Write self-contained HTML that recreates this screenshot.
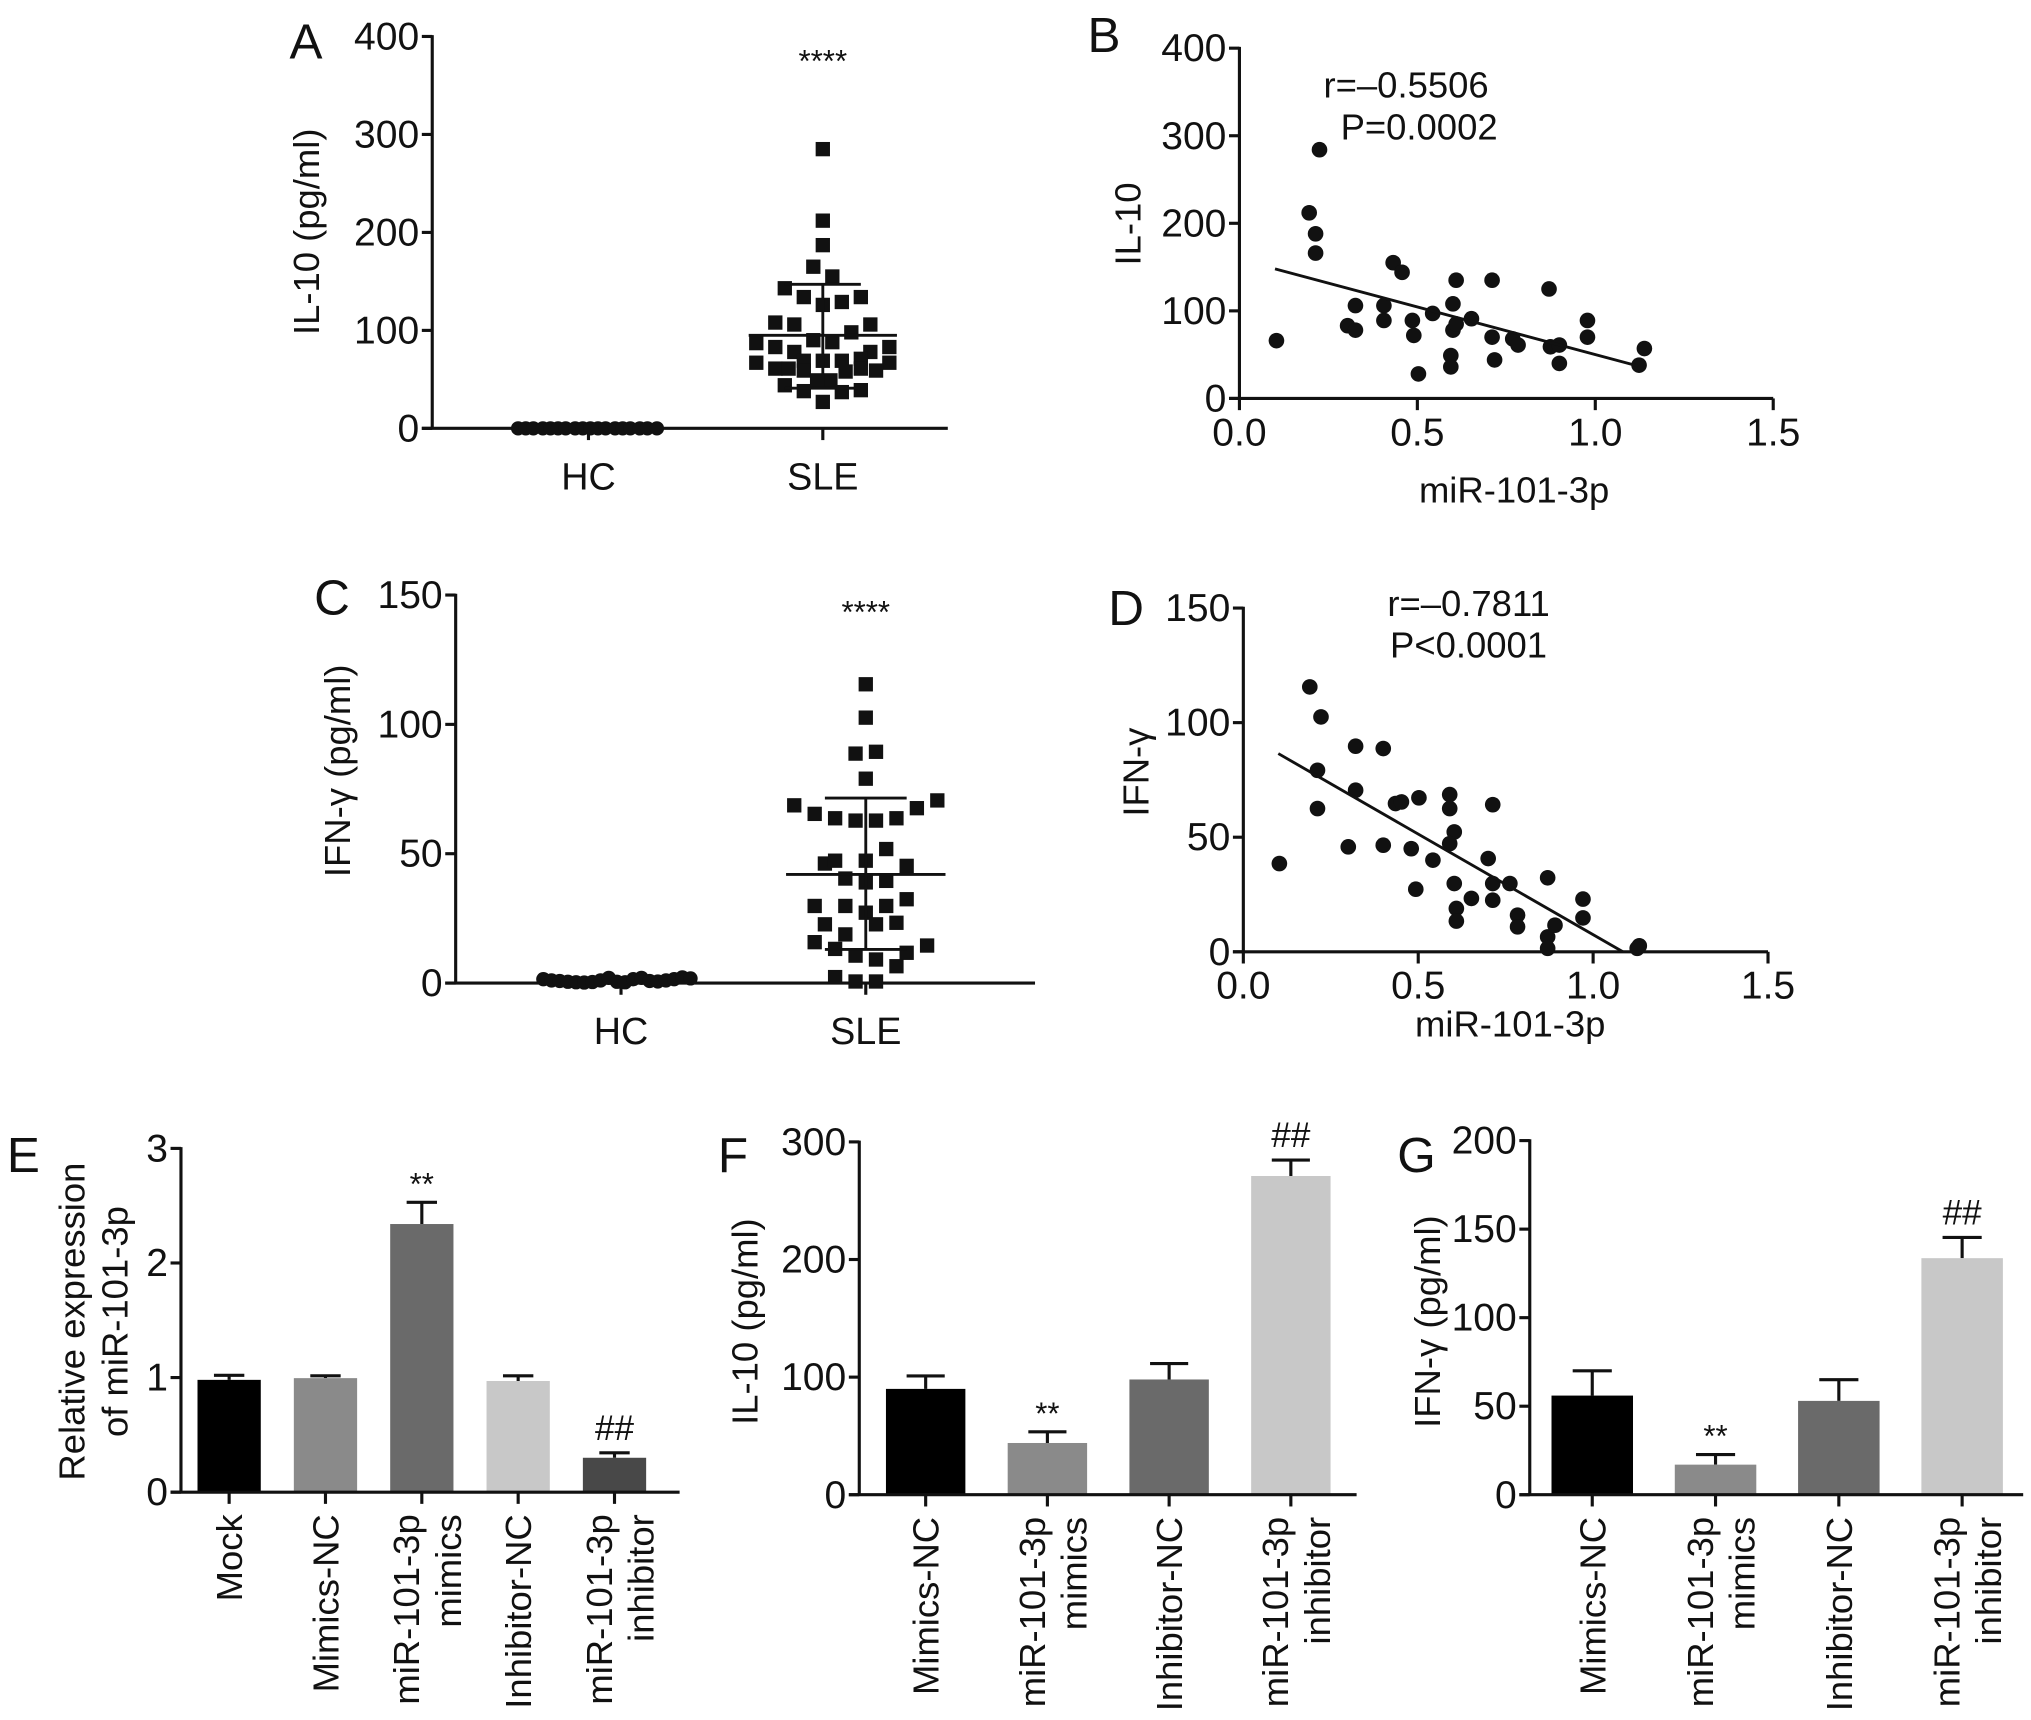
<!DOCTYPE html>
<html><head><meta charset="utf-8"><style>
html,body{margin:0;padding:0;background:#fff;}
svg{display:block;font-family:"Liberation Sans",Arial,sans-serif;}
</style></head><body>
<svg id="fig" xmlns="http://www.w3.org/2000/svg" width="2031" height="1720" viewBox="0 0 1560 1321" preserveAspectRatio="none"></svg>
<script>
// ---------- DATA ----------
const A_cats = ['HC','SLE'];
const A_ticks = [0,100,200,300,400];
const A_hcValues = [0,0,0,0,0,0,0,0,0,0,0,0,0,0,0,0,0,0];
const A_hcCols = [-3.7,-3.3,-2.9,-2.4,-2,-1.6,-1.2,-0.7,-0.3,0.1,0.5,0.9,1.4,1.8,2.2,2.7,3.1,3.6];
const A_sleValues = [285,212,187,165,155,143,134,134,126,129,108,106,106,98,90,88,87,83,83,78,78,69,69,69,71,67,67,61,61,59,58,59,61,49,49,44,38,37,39,27];
const A_sleCols = [0,0,0,-0.5,0.5,-2,-1,2,0,1,-2.5,-1.5,2.5,1.5,-0.5,0.5,-3.5,-2.5,3.5,-1.5,2.5,0,-1,1,2,-3.5,3.5,-2.5,-1.8,-1,1.2,2.8,2,-0.3,0.4,-2,-1,1,2,0];
const A_mean = 95, A_sdHi = 147, A_sdLo = 41;

const B_ticksX = [0.0,0.5,1.0,1.5];
const B_ticksY = [0,100,200,300,400];
const B_x = [0.225,0.196,0.214,0.214,0.104,0.432,0.457,0.326,0.304,0.326,0.406,0.406,0.486,0.49,0.503,0.543,0.6,0.609,0.6,0.609,0.652,0.594,0.594,0.71,0.71,0.717,0.768,0.783,0.87,0.874,0.899,0.899,0.978,0.978,1.138,1.123];
const B_y = [284,212,188,166,66,155,144,106,83,78,106,89,89,72,28,97,108,135,78,85,91,49,36,135,70,44,68,61,125,59,61,40,89,70,57,38];
const B_fitX = [0.1,1.12];
const B_fitY = [148,37];

const C_cats = ['HC','SLE'];
const C_ticks = [0,50,100,150];
const C_hcValues = [1.5,1,0.8,0.5,0.3,0.2,0.4,1,2,0.5,0.3,1.5,2,0.8,0.6,1,1.5,2.2,1.8];
const C_hcCols = [-3.8,-3.4,-3,-2.6,-2.2,-1.8,-1.4,-1,-0.6,-0.2,0.2,0.6,1,1.4,1.8,2.2,2.6,3,3.4];
const C_sleValues = [115.5,102.6,88.7,89.4,79,68.7,65.4,63.7,62.8,62.8,63.7,67.6,70.6,51.8,46.2,47.3,47.3,45.3,40.4,38.9,39.5,29.8,29.8,27.2,29.8,32.4,22.7,22.7,23.3,18.8,15.8,13.2,10.6,9.1,11.7,14.5,6.5,2.3,0.6,0.6];
const C_sleCols = [0,0,-0.5,0.5,0,-3.5,-2.5,-1.5,-0.5,0.5,1.5,2.5,3.5,1,-2,-1.5,0,2,-1,0,1,-2.5,-1,0,1,2,-2,0.5,1.5,-1,-2.5,-1.5,-0.5,0.5,2,3,1.5,-1.5,-0.5,0.5];
const C_mean = 42, C_sdHi = 71.5, C_sdLo = 13;

const D_ticksX = [0.0,0.5,1.0,1.5];
const D_ticksY = [0,50,100,150];
const D_x = [0.19,0.222,0.321,0.4,0.212,0.321,0.212,0.103,0.30,0.4,0.435,0.452,0.502,0.48,0.493,0.542,0.59,0.59,0.603,0.59,0.603,0.609,0.609,0.652,0.713,0.70,0.713,0.713,0.762,0.784,0.784,0.87,0.87,0.87,0.891,0.971,0.971,1.126,1.132];
const D_y = [115.6,102.5,89.7,88.7,79.2,70.5,62.5,38.5,45.8,46.5,64.7,65.4,67.2,45,27.3,40,68.6,62.5,52.3,47.2,29.8,18.9,13.4,23.3,64.2,40.7,29.8,22.5,29.8,16,10.9,32.3,6.5,1.5,11.6,23,14.8,1.5,2.6];
const D_fitX = [0.1,1.085];
const D_fitY = [86.5,0];

const E_cats = [['Mock'],['Mimics-NC'],['miR-101-3p','mimics'],['Inhibitor-NC'],['miR-101-3p','inhibitor']];
const E_ticks = [0,1,2,3];
const E_values = [0.98,0.995,2.34,0.97,0.30];
const E_errs = [1.02,1.015,2.53,1.015,0.343];
const E_marks = ['','','**','','##'];

const F_cats = [['Mimics-NC'],['miR-101-3p','mimics'],['Inhibitor-NC'],['miR-101-3p','inhibitor']];
const F_ticks = [0,100,200,300];
const F_values = [90,44,98,271];
const F_errs = [101,53.5,111.5,284.6];
const F_marks = ['','**','','##'];

const G_cats = [['Mimics-NC'],['miR-101-3p','mimics'],['Inhibitor-NC'],['miR-101-3p','inhibitor']];
const G_ticks = [0,50,100,150,200];
const G_values = [56,17,53,133.6];
const G_errs = [70,22.7,65,145.3];
const G_marks = ['','**','','##'];

// ---------- HELPERS ----------
const NS = 'http://www.w3.org/2000/svg';
const svg = document.getElementById('fig');
function mk(tag, attrs, parent){
  const el = document.createElementNS(NS, tag);
  for (const k in attrs) el.setAttribute(k, attrs[k]);
  (parent || svg).appendChild(el);
  return el;
}
function lin(d0,d1,r0,r1){ return v => r0 + (v-d0)*(r1-r0)/(d1-d0); }
function group(name){
  const g = mk('g', {});
  
  
  return g;
}
function line(g, x1,y1,x2,y2, name, w){
  const l = mk('line',{x1:x1,y1:y1,x2:x2,y2:y2,stroke:'#111','stroke-width':w||2.4}, g);
  
  
  return l;
}
function text(g, x, y, s, size, anchor, name, rot){
  const t = mk('text',{x:x,y:y,'font-size':size,'text-anchor':anchor||'middle',fill:'#111'}, g);
  if (rot) t.setAttribute('transform','rotate(-90 '+x+' '+y+')');
  t.textContent = s;
  
  
  return t;
}
function yAxis(g, x0, xEnd, yScale, ticks, fmt){
  const top = yScale(ticks[ticks.length-1]), bot = yScale(ticks[0]);
  line(g, x0, top-1, x0, bot, 'y-axis');
  line(g, x0-8, bot, xEnd, bot, 'x-axis');
  ticks.forEach(t => {
    line(g, x0-8, yScale(t), x0, yScale(t), 'y-tick');
    text(g, x0-10, yScale(t)+10, fmt ? fmt(t) : String(t), 30, 'end', 'y-tick-label');
  });
}

// ---------- DOT PLOTS ----------
function dotPlot(name, x0, xEnd, yTopPx, yBotPx, ticks, cats, catX, hcV, hcC, sV, sC, mean, hi, lo, colW){
  const g = group(name);
  const y = lin(0, ticks[ticks.length-1], yBotPx, yTopPx);
  yAxis(g, x0, xEnd, y, ticks);
  cats.forEach((c,i) => {
    line(g, catX(i), yBotPx, catX(i), yBotPx+9, 'x-tick');
    text(g, catX(i), yBotPx+47, c, 29, 'middle', 'x-tick-label');
  });
  hcV.forEach((v,i) => {
    const c = mk('circle',{cx:catX(0)+hcC[i]*colW, cy:y(v), r:5.5, fill:'#111'}, g);
    
    
  });
  sV.forEach((v,i) => {
    const r = mk('rect',{x:catX(1)+sC[i]*colW-5.5, y:y(v)-5.5, width:11, height:11, fill:'#111'}, g);
    
    
  });
  const cx = catX(1);
  line(g, cx-3.9*colW, y(mean), cx+3.9*colW, y(mean), 'mean-line', 2.2);
  line(g, cx, y(hi), cx, y(lo), 'sd-bar', 2.2);
  line(g, cx-2*colW, y(hi), cx+2*colW, y(hi), 'sd-cap-upper', 2.2);
  line(g, cx-2*colW, y(lo), cx+2*colW, y(lo), 'sd-cap-lower', 2.2);
  return {g:g, y:y};
}
const pA = dotPlot('panel-a', 332, 728, 28, 329, A_ticks, A_cats, i => 452+180*i, A_hcValues, A_hcCols, A_sleValues, A_sleCols, A_mean, A_sdHi, A_sdLo, 14.6);
text(pA.g, 632, 55, '****', 24, 'middle', 'significance-mark');
text(pA.g, 245, 178, 'IL-10 (pg/ml)', 28, 'middle', 'y-axis-title', true);
text(pA.g, 235, 45, 'A', 38, 'middle', 'panel-label');

const pC = dotPlot('panel-c', 350, 795, 457, 755, C_ticks, C_cats, i => 477+188*i, C_hcValues, C_hcCols, C_sleValues, C_sleCols, C_mean, C_sdHi, C_sdLo, 15.7);
text(pC.g, 665, 478, '****', 24, 'middle', 'significance-mark');
text(pC.g, 269, 592, 'IFN-γ (pg/ml)', 28, 'middle', 'y-axis-title', true);
text(pC.g, 255, 472, 'C', 38, 'middle', 'panel-label');

// ---------- SCATTER ----------
function scatter(name, x0, x15, yTopPx, yBotPx, tx, ty, xs, ys, fx, fy){
  const g = group(name);
  const x = lin(0, 1.5, x0, x15);
  const y = lin(0, ty[ty.length-1], yBotPx, yTopPx);
  line(g, x0, yTopPx-1, x0, yBotPx, 'y-axis');
  line(g, x0-8, yBotPx, x15, yBotPx, 'x-axis');
  ty.forEach(t => {
    line(g, x0-8, y(t), x0, y(t), 'y-tick');
    text(g, x0-10, y(t)+10, String(t), 30, 'end', 'y-tick-label');
  });
  tx.forEach(t => {
    line(g, x(t), yBotPx, x(t), yBotPx+9, 'x-tick');
    text(g, x(t), yBotPx+36, t.toFixed(1), 30, 'middle', 'x-tick-label');
  });
  xs.forEach((v,i) => {
    const c = mk('circle',{cx:x(v), cy:y(ys[i]), r:6, fill:'#111'}, g);
    
    
  });
  line(g, x(fx[0]), y(fy[0]), x(fx[1]), y(fy[1]), 'regression-line', 2.2);
  return {g:g};
}
const pB = scatter('panel-b', 952, 1362, 37, 306, B_ticksX, B_ticksY, B_x, B_y, B_fitX, B_fitY);
text(pB.g, 1080, 75, 'r=–0.5506', 28, 'middle', 'correlation-r');
text(pB.g, 1090, 107, 'P=0.0002', 28, 'middle', 'correlation-p');
text(pB.g, 1163, 386, 'miR-101-3p', 28, 'middle', 'x-axis-title');
text(pB.g, 876, 172, 'IL-10', 28, 'middle', 'y-axis-title', true);
text(pB.g, 848, 40, 'B', 38, 'middle', 'panel-label');

const pD = scatter('panel-d', 955, 1358, 467, 731, D_ticksX, D_ticksY, D_x, D_y, D_fitX, D_fitY);
text(pD.g, 1128, 473, 'r=–0.7811', 28, 'middle', 'correlation-r');
text(pD.g, 1128, 505, 'P<0.0001', 28, 'middle', 'correlation-p');
text(pD.g, 1160, 796, 'miR-101-3p', 28, 'middle', 'x-axis-title');
text(pD.g, 882, 593, 'IFN-γ', 28, 'middle', 'y-axis-title', true);
text(pD.g, 865, 480, 'D', 38, 'middle', 'panel-label');

// ---------- BARS ----------
function barChart(name, x0, xEnd, yTopPx, yBotPx, ticks, cats, vals, errs, marks, colors, c0, step, bw){
  const g = group(name);
  const y = lin(0, ticks[ticks.length-1], yBotPx, yTopPx);
  const cx = i => c0 + step*i;
  vals.forEach((v,i) => {
    const top = y(errs[i]);
    line(g, cx(i), top, cx(i), y(v), 'error-bar', 2.4);
    line(g, cx(i)-bw*0.24, top, cx(i)+bw*0.24, top, 'error-cap', 2.4);
    const r = mk('rect',{x:cx(i)-bw/2, y:y(v), width:bw, height:yBotPx-y(v), fill:colors[i]}, g);
    
    
    if (marks[i]) text(g, cx(i), top - (marks[i]==='##'?10:6), marks[i], marks[i]==='##'?27:24, 'middle', 'significance-mark');
  });
  yAxis(g, x0, xEnd, y, ticks);
  cats.forEach((c,i) => {
    line(g, cx(i), yBotPx, cx(i), yBotPx+9, 'x-tick');
    if (c.length === 1) {
      text(g, cx(i)+10, yBotPx+17, c[0], 28, 'end', 'x-tick-label', true);
    } else {
      text(g, cx(i)-2, yBotPx+17, c[0], 28, 'end', 'x-tick-label', true);
      text(g, cx(i)+30, yBotPx+17, c[1], 28, 'end', 'x-tick-label', true);
    }
  });
  return {g:g};
}
const pE = barChart('panel-e', 139, 522, 882, 1146, E_ticks, E_cats, E_values, E_errs, E_marks, ['#000','#8a8a8a','#6a6a6a','#c8c8c8','#484848'], 176, 74, 48.6);
text(pE.g, 65, 1015, 'Relative expression', 28, 'middle', 'y-axis-title', true);
text(pE.g, 98, 1015, 'of miR-101-3p', 28, 'middle', 'y-axis-title-line2', true);
text(pE.g, 18, 900, 'E', 38, 'middle', 'panel-label');

const pF = barChart('panel-f', 660, 1042, 877, 1148, F_ticks, F_cats, F_values, F_errs, F_marks, ['#000','#8a8a8a','#6a6a6a','#c8c8c8'], 711, 93.5, 61);
text(pF.g, 582, 1015, 'IL-10 (pg/ml)', 28, 'middle', 'y-axis-title', true);
text(pF.g, 563, 900, 'F', 38, 'middle', 'panel-label');

const pG = barChart('panel-g', 1175, 1554, 876, 1148, G_ticks, G_cats, G_values, G_errs, G_marks, ['#000','#8a8a8a','#6a6a6a','#c8c8c8'], 1223, 94.7, 62.6);
text(pG.g, 1106, 1015, 'IFN-γ (pg/ml)', 28, 'middle', 'y-axis-title', true);
text(pG.g, 1088, 900, 'G', 38, 'middle', 'panel-label');
</script>
</body></html>
